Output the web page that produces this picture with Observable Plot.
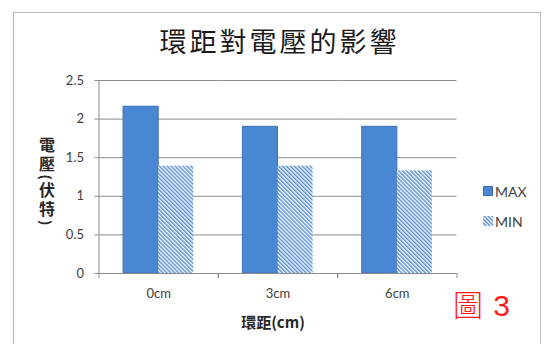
<!DOCTYPE html>
<html>
<head>
<meta charset="utf-8">
<script src="https://cdn.jsdelivr.net/npm/d3@7"></script>
<script src="https://cdn.jsdelivr.net/npm/@observablehq/plot@0.6"></script>
<style>
  html, body { margin: 0; padding: 0; background: #fff; }
  #card { position: relative; width: 549px; height: 344px; overflow: hidden; background: #fff; }
  #card > svg.plot { position: absolute; left: 0; top: 0; }
  .border { position: absolute; left: 13px; top: 12px; width: 528px; height: 360px;
            border: 1px solid #b8b8b8; box-sizing: border-box; pointer-events: none; }
  .title { position: absolute; left: 0; top: 24px; width: 559px; text-align: center;
           font-family: "Noto Sans CJK TC", sans-serif; font-size: 27px; letter-spacing: 3px;
           line-height: 34px; color: #1a1a1a; }
  .ylabel { position: absolute; left: 38px; top: 137px; writing-mode: vertical-rl;
            font-family: Lato, "Noto Sans CJK TC", sans-serif; font-weight: 700; font-size: 16px;
            letter-spacing: 3px; line-height: 16px; color: #262626; }
  .xlabel { position: absolute; left: 0; top: 312px; width: 546px; text-align: center;
            font-family: "Noto Sans CJK TC", sans-serif; font-weight: 700; font-size: 15px;
            line-height: 20px; color: #262626; }
  .legend { position: absolute; left: 483px; top: 183px; font-family: Lato, sans-serif;
            font-size: 14px; color: #404040; }
  .legend .item { display: flex; align-items: center; height: 16px; margin-bottom: 14px; }
  .legend svg { display: block; margin-right: 2px; }
  .fig { position: absolute; left: 453px; top: 288px; color: #ff1a1a;
         font-family: "Liberation Sans", "Noto Sans CJK TC", sans-serif; font-size: 30px;
         font-weight: 300; line-height: 36px; letter-spacing: 1px; }
</style>
</head>
<body>
<svg width="0" height="0" style="position:absolute">
  <defs>
    <pattern id="minHatch" patternUnits="userSpaceOnUse" width="2.8" height="2.8" patternTransform="rotate(-45)">
      <rect width="2.8" height="2.8" fill="#ffffff"></rect>
      <rect width="1.4" height="2.8" fill="#4f89d3"></rect>
    </pattern>
  </defs>
</svg>
<div id="card"></div>
<script>
// 環距 (ring spacing) categories and measured voltages (V)
const categories = ["0cm", "3cm", "6cm"];
const seriesNames = ["MAX", "MIN"];
const maxValues = [2.16, 1.90, 1.90];
const minValues = [1.39, 1.39, 1.33];
const yTicks = [0, 0.5, 1, 1.5, 2, 2.5];

const titleText = "環距對電壓的影響";
const yTitle = "電壓(伏特)";
const xTitle = "環距(cm)";
const figureTag = "圖 3";

const rows = categories.flatMap((c, i) => [
  {cat: c, series: seriesNames[0], value: maxValues[i]},
  {cat: c, series: seriesNames[1], value: minValues[i]}
]);
const maxRows = rows.filter(d => d.series === "MAX");
const minRows = rows.filter(d => d.series === "MIN");

const W = 549, H = 344, mL = 98.5, mR = 92.5;
const step = (W - mL - mR) / categories.length;
const gray = "#8c8c8c";

const chart = Plot.plot({
  width: W,
  height: H,
  marginLeft: mL,
  marginRight: mR,
  marginTop: 80,
  marginBottom: 71,
  style: {fontFamily: "Lato, 'Noto Sans CJK TC', sans-serif", fontSize: "13px", color: "#404040", background: "transparent", overflow: "visible"},
  fx: {domain: categories, padding: 0, round: false, label: null},
  x: {domain: seriesNames, paddingInner: 0, paddingOuter: 0.7, round: false, axis: null},
  y: {domain: [0, 2.5], ticks: yTicks, label: null},
  marks: [
    Plot.gridY(yTicks, {stroke: gray, strokeOpacity: 1}),
    Plot.frame({anchor: "left", facetAnchor: "left", stroke: gray, strokeOpacity: 1}),
    Plot.axisY(yTicks, {tickSize: 4, tickPadding: 11, stroke: gray, strokeOpacity: 1, fill: "#404040", fontSize: 13, tickFormat: d => String(d), label: null}),
    Plot.barY(maxRows, {fx: "cat", x: "series", y: "value", fill: "#4a87d2", stroke: "#3d70b4", strokeWidth: 1}),
    Plot.barY(minRows, {fx: "cat", x: "series", y: "value", fill: "url(#minHatch)"}),
    Plot.ruleY([0], {stroke: gray}),
    // category boundary ticks
    Plot.axisFx({anchor: "bottom", tickSize: 5, tickFormat: () => "", dx: -step / 2, stroke: gray, label: null}),
    Plot.axisFx({anchor: "bottom", tickSize: 5, tickFormat: () => "", dx: step / 2, stroke: gray, label: null}),
    // category labels
    Plot.axisFx({anchor: "bottom", tickSize: 0, tickPadding: 15, fill: "#404040", fontSize: 13, label: null})
  ]
});
chart.classList.add("plot");

const card = document.getElementById("card");
card.appendChild(chart);

function addDiv(cls, text) {
  const el = document.createElement("div");
  el.className = cls;
  if (text != null) el.textContent = text;
  card.appendChild(el);
  return el;
}

addDiv("title", titleText);
addDiv("ylabel", yTitle);
addDiv("xlabel", xTitle);
addDiv("fig", figureTag);

const legend = addDiv("legend");
legend.innerHTML = `
  <div class="item"><svg width="10" height="10"><rect x="0.5" y="0.5" width="9" height="9" fill="#4a87d2" stroke="#3d70b4"></rect></svg><span>${seriesNames[0]}</span></div>
  <div class="item"><svg width="10" height="10"><rect x="0" y="0" width="10" height="10" fill="url(#minHatch)"></rect></svg><span>${seriesNames[1]}</span></div>`;

addDiv("border");
</script>
</body>
</html>
